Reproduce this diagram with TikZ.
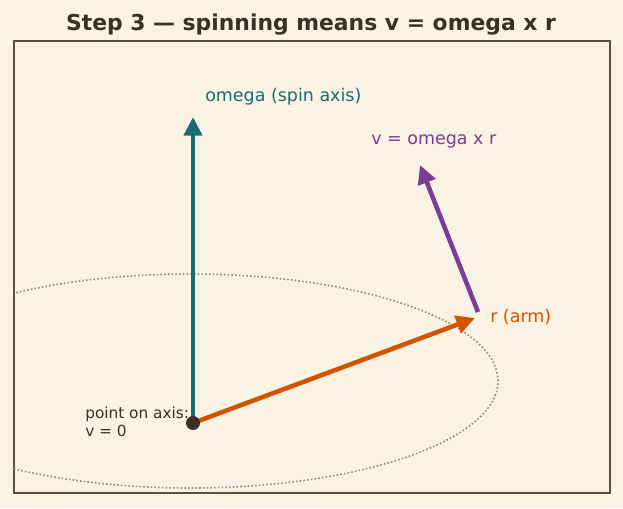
\documentclass[tikz,border=0pt]{standalone}
\usepackage{fontspec}
\setmainfont{DejaVu Sans}
\definecolor{paper}{RGB}{250, 243, 227}
\definecolor{framegray}{RGB}{90, 80, 64}
\definecolor{inkbrown}{RGB}{58, 48, 40}
\definecolor{omegateal}{RGB}{26, 107, 120}
\definecolor{armorange}{RGB}{211, 84, 0}
\definecolor{velpurple}{RGB}{125, 60, 152}
\definecolor{orbitgray}{RGB}{150, 140, 125}
\usetikzlibrary{arrows.meta, positioning}

\begin{document}
\begin{tikzpicture}[x=0.75pt, y=0.75pt,
  vec/.style={line width=3.4pt, -{Triangle[length=14pt, width=13.5pt]}},
  lbl/.style={font=\fontsize{13.1}{16}\selectfont, anchor=west, inner sep=0pt}]
  % Background and frame
  \fill[paper] (0, 0) rectangle (623, 508);
  \useasboundingbox (0, 0) rectangle (623, 508);
  \draw[framegray, line width=1.2pt] (14, 15) rectangle (610, 467);

  % Title
  \node[font=\fontsize{16.4}{19}\selectfont\bfseries, text=inkbrown] (title) at (311, 483) {Step 3 — spinning means v = omega x r};

  % Orbit of the arm tip
  \begin{scope}
    \clip (14, 15) rectangle (610, 467);
    \draw[orbitgray, line width=1.2pt, dash pattern=on 1.2pt off 1.6pt] (190, 127) ellipse [x radius=308, y radius=107];
  \end{scope}

  % Points
  \coordinate (origin) at (193, 85);
  \coordinate (omegatip) at (193, 391);
  \coordinate (rtip) at (475, 190);
  \coordinate (vstart) at (478, 196);
  \coordinate (vtip) at (420, 343);

  % Vectors
  \draw[vec, omegateal] (origin) -- (omegatip);
  \draw[vec, armorange] (origin) -- (rtip);
  \draw[vec, velpurple] (vstart) -- (vtip);
  \fill[inkbrown] (origin) circle [radius=7];

  % Labels
  \node[lbl, text=omegateal] (omegalabel) at (205, 411) {omega (spin axis)};
  \node[lbl, text=armorange] (rlabel) at (490, 191) {r (arm)};
  \node[lbl, text=velpurple] (vlabel) at (371, 367) {v = omega x r};
  \node[lbl, text=inkbrown, font=\fontsize{11.5}{13.5}\selectfont, align=left] (originlabel) at (85, 86) {point on axis:\\v = 0};
\end{tikzpicture}
\end{document}
